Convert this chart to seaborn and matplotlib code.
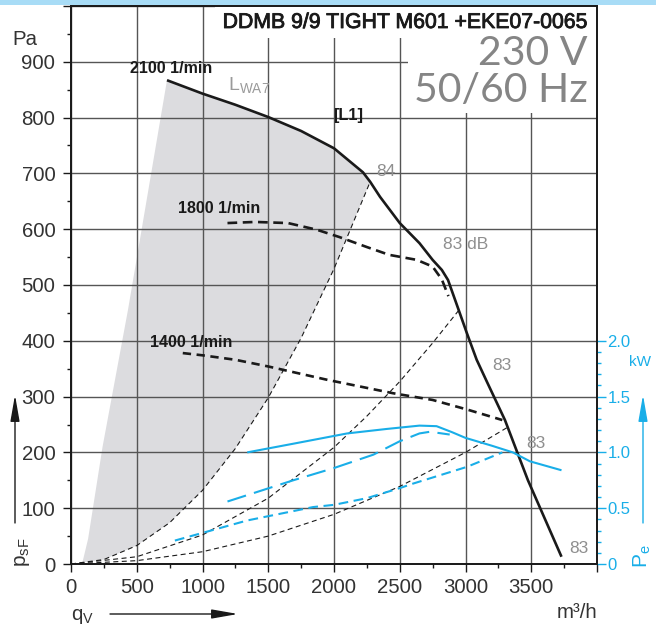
import numpy as np
import seaborn as sns
import matplotlib.pyplot as plt
import matplotlib.patheffects as pe
from matplotlib.patches import Rectangle
from matplotlib.ticker import MultipleLocator, FixedLocator


# fan curves, q_V in m3/h, p_sF in Pa
q_2100 = [730, 1000, 1250, 1500, 1750, 2000, 2220, 2275, 2350, 2500, 2650, 2750, 2820, 2867, 2956,
          3010, 3085, 3160, 3300, 3410, 3475, 3730]
p_2100 = [867, 843, 823, 801, 776, 745, 702, 685, 658, 611, 575, 545, 527, 509, 450,
          414, 366, 328, 258, 190, 150, 13]
q_1800 = [1190, 1400, 1650, 1870, 2040, 2250, 2420, 2630, 2750, 2820, 2870]
p_1800 = [611, 613, 611, 599, 586, 568, 554, 545, 533, 510, 480]
q_1400 = [850, 1000, 1250, 1500, 1950, 2450, 2750, 3010, 3280]
p_1400 = [378, 374, 366, 354, 330, 306, 294, 277, 258]

# system curves (thin dashed)
q_sys1 = [0, 250, 500, 750, 1000, 1250, 1500, 1750, 2000, 2275]
p_sys1 = [0, 8, 33, 74, 132, 207, 298, 405, 529, 685]
q_sys2 = [0, 500, 1000, 1500, 2000, 2250, 2500, 2750, 2950]
p_sys2 = [0, 13, 52, 118, 209, 265, 327, 396, 455]
q_sys3 = [0, 500, 1000, 1500, 2000, 2500, 3000, 3320]
p_sys3 = [0, 6, 22, 50, 89, 139, 200, 245]

# left edge of the grey zone
q_zone = [84, 130, 240, 433, 614, 730]
p_zone = [0, 45, 210, 455, 706, 867]

# input power P_e in kW
q_pe2100 = [1340, 1700, 2100, 2400, 2650, 2780, 2900, 3000, 3200, 3360, 3490, 3730]
pe_2100 = [1.00, 1.08, 1.17, 1.21, 1.24, 1.235, 1.18, 1.13, 1.06, 1.00, 0.92, 0.84]
q_pe1800 = [1190, 1690, 2000, 2300, 2500, 2650, 2730, 2880]
pe_1800 = [0.56, 0.75, 0.86, 0.98, 1.10, 1.17, 1.185, 1.16]
q_pe1400 = [790, 1340, 1840, 2000, 2250, 2500, 2600, 3010, 3280]
pe_1400 = [0.21, 0.39, 0.51, 0.53, 0.59, 0.68, 0.72, 0.87, 1.00]

q_ticks = [0, 500, 1000, 1500, 2000, 2500, 3000, 3500, 4000]
q_tick_labels = ["0", "500", "1000", "1500", "2000", "2500", "3000", "3500", ""]
p_ticks = [0, 100, 200, 300, 400, 500, 600, 700, 800, 900, 1000]
p_tick_labels = ["0", "100", "200", "300", "400", "500", "600", "700", "800", "900", ""]
pe_ticks = [0, 0.5, 1.0, 1.5, 2.0]
pe_tick_labels = ["0", "0.5", "1.0", "1.5", "2.0"]

# point labels on the 2100 curve
lw_q = [2320, 2827, 3207, 3465, 3792]
lw_p = [706, 575, 359, 219, 30]
lw_txt = ["84", "83 dB", "83", "83", "83"]

INK = "#1a1a1a"
BLUE = "#19aee8"
GREY = "#8f8f8f"
W, H = 656, 635

sns.set_theme(style="ticks")
plt.rcParams["font.family"] = ["Liberation Sans", "DejaVu Sans"]
plt.rcParams["lines.scale_dashes"] = False


def fx(px):
    return px / W


def fy(py):
    return 1 - py / H


def line(axis, q, v, color, lw, dashes=None):
    sns.lineplot(x=q, y=v, ax=axis, color=color, linewidth=lw, sort=False, estimator=None)
    ln = axis.lines[-1]
    ln.set_solid_capstyle("butt")
    ln.set_solid_joinstyle("round")
    if dashes:
        ln.set_dashes(dashes)
        ln.set_dash_capstyle("butt")


fig = plt.figure(figsize=(6.56, 6.35), dpi=100)
fig.add_artist(Rectangle((0, fy(5)), 1, 1 - fy(5), transform=fig.transFigure,
                         facecolor="#a8dcf6", edgecolor="none"))
ax = fig.add_axes([fx(71), fy(564), fx(597) - fx(71), fy(6) - fy(564)])

# grey zone: left edge, top along 2100 curve, back down the first system curve
zone_q = q_zone + q_2100[1:8] + q_sys1[::-1][1:]
zone_p = p_zone + p_2100[1:8] + p_sys1[::-1][1:]
ax.fill(zone_q, zone_p, color="#dcdcdf", lw=0, zorder=0.3)

line(ax, q_sys1, p_sys1, INK, 0.8, (3.6, 2.5))
line(ax, q_sys2, p_sys2, INK, 0.8, (3.6, 2.5))
line(ax, q_sys3, p_sys3, INK, 0.8, (3.6, 2.5))
line(ax, q_2100, p_2100, INK, 1.9)
line(ax, q_1800, p_1800, INK, 1.9, (7, 4))
line(ax, q_1400, p_1400, INK, 1.9, (6, 4))

ax.set_xlim(0, 4000)
ax.set_ylim(0, 1000)
ax.set_xticks(q_ticks)
ax.set_xticklabels(q_tick_labels)
ax.set_yticks(p_ticks)
ax.set_yticklabels(p_tick_labels)
ax.xaxis.set_minor_locator(MultipleLocator(250))
ax.yaxis.set_minor_locator(MultipleLocator(50))
ax.tick_params(which="major", length=5.8, width=1, color=INK, labelsize=14.7, labelcolor="#333333")
ax.tick_params(axis="x", pad=4.5)
ax.tick_params(axis="y", pad=5.5)
ax.tick_params(which="minor", length=3, width=1, color=INK)
ax.tick_params(which="both", right=False, top=False)
ax.grid(True, which="major", color="#555555", linewidth=1.0)
ax.set_xlabel("")
ax.set_ylabel("")

# white boxes behind the heading texts
ax.add_patch(Rectangle((0.274, 0.943), 0.726, 0.057, transform=ax.transAxes,
                       facecolor="white", edgecolor="none", zorder=0.8))
ax.add_patch(Rectangle((0.641, 0.808), 0.359, 0.192, transform=ax.transAxes,
                       facecolor="white", edgecolor="none", zorder=0.8))

ax.text(450, 890, "2100 1/min", fontsize=11.5, weight="bold", color=INK, va="center_baseline")
ax.text(813, 640, "1800 1/min", fontsize=11.5, weight="bold", color=INK, va="center_baseline")
ax.text(600, 400, "1400 1/min", fontsize=11.5, weight="bold", color=INK, va="center_baseline")
ax.text(1991, 806, "[L1]", fontsize=11.8, weight="bold", color=INK, va="center_baseline")
ax.text(1193, 849, r"L$_\mathregular{WA7}$", fontsize=14, color="#9a9a9a", va="baseline")
for q, p, t in zip(lw_q, lw_p, lw_txt):
    ax.text(q, p, t, fontsize=12.5, color=GREY, va="center_baseline")

ax2 = ax.twinx()
line(ax2, q_pe2100, pe_2100, BLUE, 1.5)
line(ax2, q_pe1800, pe_1800, BLUE, 1.5, (14, 6))
line(ax2, q_pe1400, pe_1400, BLUE, 1.5, (7, 4))
ax2.set_ylim(0, 5)
ax2.set_yticks(pe_ticks)
ax2.set_yticklabels(pe_tick_labels)
ax2.yaxis.set_minor_locator(FixedLocator(np.arange(0, 2.05, 0.1)))
ax2.tick_params(axis="y", which="major", length=6.5, width=1, colors=BLUE, labelsize=12, pad=1)
ax2.tick_params(axis="y", which="minor", length=3, width=1, colors=BLUE)
ax2.set_ylabel("")
ax2.grid(False)
for s in ax2.spines.values():
    s.set_color(INK)
for s in ax.spines.values():
    s.set_color(INK)

# heading
fig.text(fx(588), fy(28), "DDMB 9/9 TIGHT M601 +EKE07-0065", ha="right", va="baseline",
         fontsize=15.3, color=INK,
         path_effects=[pe.withStroke(linewidth=0.6, foreground=INK)])
big = dict(ha="right", va="baseline", fontsize=29.5, color="#858585",
           family=["Lato", "Liberation Sans"], weight="normal")
fig.text(fx(588), fy(65), "230 V", **big)
fig.text(fx(588), fy(102), "50/60 Hz", **big)

# axis captions and arrows
fig.text(fx(12), fy(45), "Pa", fontsize=14.7, color="#333333", va="baseline")
fig.text(fx(71), fy(620), r"q$_\mathregular{V}$", fontsize=14.7, color="#333333", va="baseline")
fig.text(fx(597), fy(618), "m³/h", fontsize=14.7, color="#333333", ha="right", va="baseline")
fig.text(fx(23), fy(567), r"p$_\mathregular{sF}$", fontsize=15, color="#333333",
         rotation=90, ha="center", va="bottom")
fig.text(fx(642), fy(568), r"P$_\mathregular{e}$", fontsize=15, color=BLUE,
         rotation=90, ha="center", va="bottom")
fig.text(fx(640), fy(362), "kW", fontsize=11, color=BLUE, ha="center", va="center")

arrow = "-|>,head_length=1.6,head_width=0.28"
for (x0, y0, x1, y1, c) in [(15, 523, 15, 395, INK), (110, 614, 238, 614, INK), (643, 523, 643, 395, BLUE)]:
    ax.annotate("", xy=(fx(x1), fy(y1)), xytext=(fx(x0), fy(y0)), xycoords="figure fraction",
                textcoords="figure fraction", annotation_clip=False,
                arrowprops=dict(arrowstyle=arrow, color=c, lw=1.0, mutation_scale=10,
                                shrinkA=0, shrinkB=0))

fig.savefig("out.png", dpi=100)
